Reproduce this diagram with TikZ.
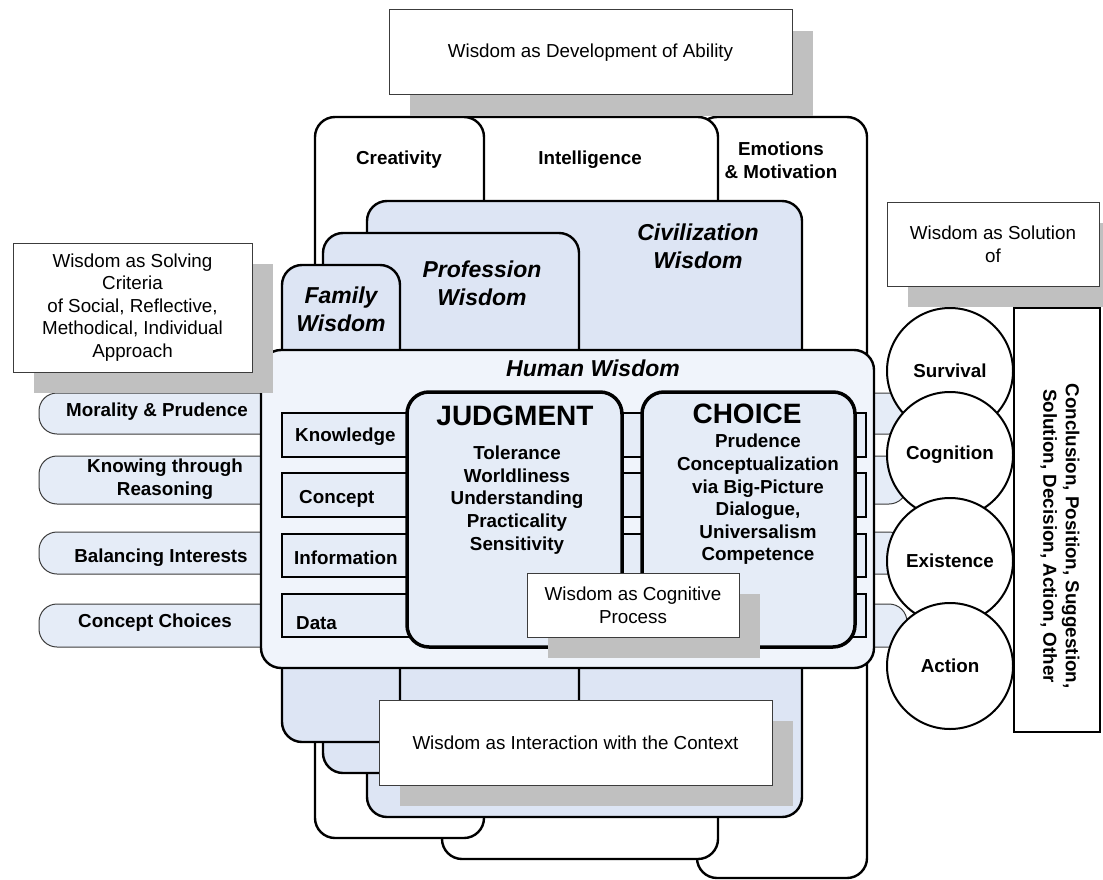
\documentclass[tikz,border=0pt]{standalone}
\usepackage{fontspec}
\setmainfont{Liberation Sans}
\usetikzlibrary{shadows}

\definecolor{cardblue}{RGB}{221,229,244}
\definecolor{humanblue}{RGB}{240,244,251}
\definecolor{paleblue}{RGB}{229,236,247}
\definecolor{shadegray}{RGB}{192,192,192}
\definecolor{framegray}{RGB}{60,60,60}

\newcommand{\txtsize}{\fontsize{18.8}{22.6}\selectfont}

\tikzset{
  card/.style={draw=black, line width=2.4pt, rounded corners=20pt},
  whitecard/.style={card, fill=white},
  bluecard/.style={card, fill=cardblue},
  txtbox/.style={draw=framegray, line width=1pt, fill=white, inner sep=0pt, align=center,
    font=\txtsize, drop shadow={shadow xshift=21pt, shadow yshift=-21pt, fill=shadegray, opacity=1}},
  lbl/.style={font=\txtsize\bfseries, align=center, inner sep=0pt},
  ital/.style={font=\fontsize{23}{28}\selectfont\bfseries\itshape, align=center, inner sep=0pt},
  title/.style={font=\fontsize{28}{32}\selectfont\bfseries, inner sep=0pt},
  pill/.style={draw=framegray, line width=1pt, fill=paleblue, rounded corners=18pt},
  layer/.style={draw=black, line width=2pt, fill=paleblue},
  core/.style={draw=black, line width=3.5pt, fill=paleblue, rounded corners=22pt},
  dim/.style={circle, draw=black, line width=2pt, fill=white, minimum size=126pt,
    inner sep=0pt, font=\txtsize\bfseries},
}

\begin{document}
\begin{tikzpicture}[x=1pt, y=-1pt]
  \useasboundingbox (0,0) rectangle (1103,880);

  % abilities
  \draw[whitecard] (697,117) rectangle (867,878);
  \draw[whitecard] (442,117) rectangle (718,859);
  \draw[whitecard] (315,117) rectangle (484,838);
  \node[lbl] (creat) at (399,160) {Creativity};
  \node[lbl] (intel) at (590,160) {Intelligence};
  \node[lbl] (emot) at (781,160) {Emotions\\\& Motivation};

  \node[txtbox, minimum width=403pt, minimum height=85pt] (devel) at (590.5,52.5)
    {Wisdom as Development of Ability};

  % contexts
  \draw[bluecard] (367,201) rectangle (802,817);
  \draw[bluecard] (323,233) rectangle (579,773);
  \draw[bluecard] (282,265) rectangle (400,742);
  \node[ital] (civ) at (698,246) {Civilization\\Wisdom};
  \node[ital] (prof) at (482,283) {Profession\\Wisdom};
  \node[ital] (fam) at (341,309) {Family\\Wisdom};

  % criteria bands
  \foreach \top/\bot in {393/434, 456/504, 532/574, 604/647}
    \draw[pill] (39,\top) rectangle (907,\bot);
  \node[lbl] (moral) at (157,412) {Morality \& Prudence};
  \node[lbl] (reason) at (165,479) {Knowing through\\Reasoning};
  \node[lbl] (balance) at (161,558) {Balancing Interests};
  \node[lbl] (cchoice) at (155,623) {Concept Choices};

  % human wisdom
  \draw[card, fill=humanblue] (261,350) rectangle (874,668);
  \node[ital] (human) at (593,368) {Human Wisdom};

  \foreach \top/\bot in {413/457, 473/517, 534/577, 594/637}
    \draw[layer] (282,\top) rectangle (866,\bot);
  \node[lbl, anchor=west] (know) at (295,437) {Knowledge};
  \node[lbl, anchor=west] (conc) at (299,499) {Concept};
  \node[lbl, anchor=west] (info) at (294,558) {Information};
  \node[lbl, anchor=west] (data) at (296,623) {Data};

  \draw[core] (407,392) rectangle (622,647);
  \draw[core] (642,392) rectangle (855,647);
  \node[title] (judg) at (515,416) {JUDGMENT};
  \node[lbl] (judgitems) at (517,500)
    {Tolerance\\Worldliness\\Understanding\\Practicality\\Sensitivity};
  \node[title] (choice) at (747,414) {CHOICE};
  \node[lbl] (choiceitems) at (758,499.5)
    {Prudence\\Conceptualization\\via Big-Picture\\Dialogue,\\Universalism\\Competence};

  \node[txtbox, minimum width=212pt, minimum height=64pt] (cogn) at (633,605)
    {Wisdom as Cognitive\\Process};
  \node[txtbox, minimum width=393pt, minimum height=85pt] (inter) at (575.5,742.5)
    {Wisdom as Interaction with the Context};

  % solutions
  \node[dim] (surv) at (950,371) {Survival};
  \node[dim] (cog) at (950,455) {Cognition};
  \node[dim] (exist) at (950,561) {Existence};
  \node[dim] (act) at (950,666) {Action};
  \draw[line width=2.4pt, fill=white] (1014,308) rectangle (1100,732);
  \node[lbl, rotate=-90] (outc) at (1060,536)
    {Conclusion, Position, Suggestion,\\Solution, Decision, Action, Other};

  \node[txtbox, minimum width=212pt, minimum height=84pt] (solu) at (993,244)
    {Wisdom as Solution\\of};
  \node[txtbox, minimum width=239pt, minimum height=129pt] (crit) at (132.5,307.5)
    {Wisdom as Solving\\Criteria\\of Social, Reflective,\\Methodical, Individual\\Approach};
\end{tikzpicture}
\end{document}
